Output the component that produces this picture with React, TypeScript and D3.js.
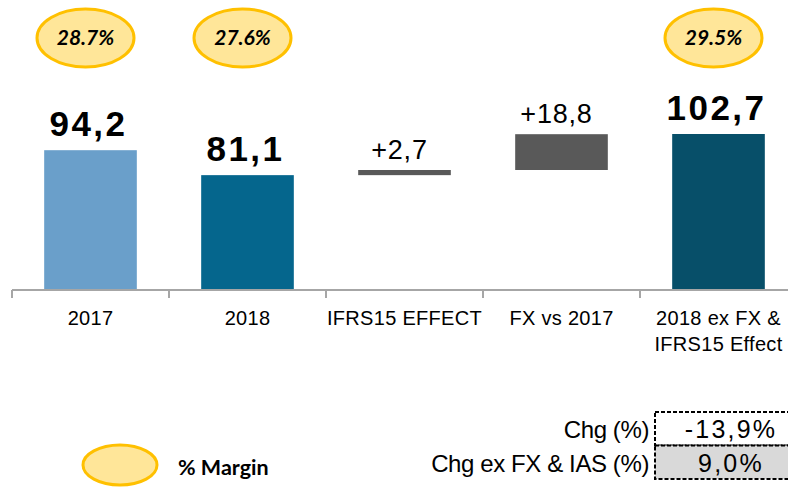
import React from "react";
import * as d3 from "d3";

const categories = ["2017", "2018", "IFRS15 EFFECT", "FX vs 2017", "2018 ex FX & IFRS15 Effect"];
const categoryLines = [["2017"], ["2018"], ["IFRS15 EFFECT"], ["FX vs 2017"], ["2018 ex FX &", "IFRS15 Effect"]];
const values = [94.2, 81.1, 2.7, 18.8, 102.7];
const kinds = ["total", "total", "delta", "delta", "total"];
const valueLabels = ["94,2", "81,1", "+2,7", "+18,8", "102,7"];
const marginLabels = ["28.7%", "27.6%", "", "", "29.5%"];
const barColors = ["#6A9FCA", "#05668D", "#595959", "#595959", "#074F69"];
const tableLabels = ["Chg (%)", "Chg ex FX & IAS (%)"];
const tableValues = ["-13,9%", "9,0%"];
const tableFills = ["#FFFFFF", "#D9D9D9"];
const legendLabel = "% Margin";

const W = 788;
const H = 488;

export default function App() {
  const x = d3
    .scaleBand<string>()
    .domain(categories)
    .range([12, 797])
    .paddingInner(0.41)
    .paddingOuter(0.205);
  const y = d3.scaleLinear().domain([20.8, 102.7]).range([290, 134]);
  const step = x.step();
  const gap = step * 0.41;

  let running = 0;
  const bars = categories.map((c, i) => {
    let lo: number, hi: number;
    if (kinds[i] === "total") {
      lo = y.domain()[0];
      hi = values[i];
      running = values[i];
    } else {
      lo = running;
      hi = running + values[i];
      running = hi;
    }
    return { c, i, x0: x(c)!, w: x.bandwidth(), yTop: y(hi), yBot: y(lo) };
  });

  const ticks = categories.map((c) => x(c)! - gap / 2);

  return (
    <svg width={W} height={H} style={{ position: "absolute", left: 0, top: 0, background: "#fff" }}>
      {bars.map((b) => (
        <rect key={b.c} x={b.x0} y={b.yTop} width={b.w} height={Math.max(1, b.yBot - b.yTop)} fill={barColors[b.i]} />
      ))}
      {/* axis */}
      <line x1={ticks[0]} x2={W} y1={290} y2={290} stroke="#A6A6A6" strokeWidth={2} />
      {ticks.map((t, i) => (
        <line key={i} x1={t} x2={t} y1={290} y2={298} stroke="#A6A6A6" strokeWidth={2} />
      ))}
      {categoryLines.map((lines, i) => (
        <text
          key={i}
          x={x(categories[i])! + x.bandwidth() / 2}
          y={325}
          textAnchor="middle"
          fontFamily="Liberation Sans, Arial, sans-serif"
          fontSize={20}
          letterSpacing={0.3}
          fill="#000"
        >
          {lines.map((l, j) => (
            <tspan key={j} x={x(categories[i])! + x.bandwidth() / 2} dy={j === 0 ? 0 : 26}>
              {l}
            </tspan>
          ))}
        </text>
      ))}
      {/* value labels */}
      {bars.map((b) =>
        kinds[b.i] === "total" ? (
          <text
            key={"v" + b.c}
            x={b.x0 + b.w / 2 - 2}
            y={b.yTop - 14}
            textAnchor="middle"
            fontFamily="Liberation Sans, Arial, sans-serif"
            fontWeight="bold"
            fontSize={35}
            letterSpacing={2.5}
            fill="#000"
          >
            {valueLabels[b.i]}
          </text>
        ) : (
          <text
            key={"v" + b.c}
            x={b.x0 + b.w / 2 - 5}
            y={b.yTop - 11}
            textAnchor="middle"
            fontFamily="Liberation Sans, Arial, sans-serif"
            fontSize={27}
            letterSpacing={0.8}
            fill="#000"
          >
            {valueLabels[b.i]}
          </text>
        )
      )}
      {/* margin ellipses */}
      {marginLabels.map((m, i) =>
        m ? (
          <g key={"m" + i} transform={`translate(${x(categories[i])! + x.bandwidth() / 2 - 5},38)`}>
            <ellipse rx={48.5} ry={29} fill="#FFE699" stroke="#FFC000" strokeWidth={3} />
            <text
              y={7}
              textAnchor="middle"
              fontFamily="Lato, sans-serif"
              fontWeight="bold"
              fontStyle="italic"
              fontSize={21}
              fill="#000"
            >
              {m}
            </text>
          </g>
        ) : null
      )}
      {/* table */}
      {tableLabels.map((l, i) => (
        <g key={"t" + i}>
          <rect x={655} y={412 + i * 33.5} width={140} height={33.5} fill={tableFills[i]} stroke="#000" strokeWidth={2} strokeDasharray="4 2" />
          <text
            x={649}
            y={438 + i * 34}
            textAnchor="end"
            fontFamily="Liberation Sans, Arial, sans-serif"
            fontSize={24}
            letterSpacing={-0.4}
            fill="#000"
          >
            {l}
          </text>
          <text
            x={731}
            y={438 + i * 34}
            textAnchor="middle"
            fontFamily="Liberation Sans, Arial, sans-serif"
            fontSize={25}
            letterSpacing={2.2}
            fill="#000"
          >
            {tableValues[i]}
          </text>
        </g>
      ))}
      {/* legend */}
      <ellipse cx={120} cy={465} rx={37} ry={20} fill="#FFE699" stroke="#FFC000" strokeWidth={3} />
      <text x={178} y={475} fontFamily="Lato, sans-serif" fontWeight="bold" fontSize={21.5} fill="#000">
        {legendLabel}
      </text>
    </svg>
  );
}
